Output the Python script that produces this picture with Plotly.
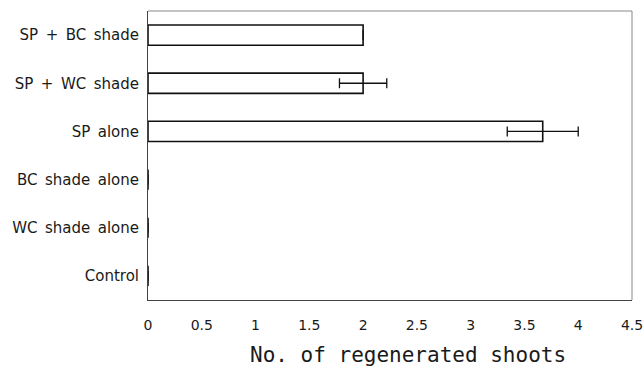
import plotly.graph_objects as go

# Treatments, listed top to bottom
treatments = ["SP + BC shade", "SP + WC shade", "SP alone",
              "BC shade alone", "WC shade alone", "Control"]
# Mean number of regenerated shoots and standard error
mean_shoots = [2.0, 2.0, 3.67, 0, 0, 0]
std_error = [0, 0.22, 0.33, 0, 0, 0]
x_ticks = [0, 0.5, 1, 1.5, 2, 2.5, 3, 3.5, 4, 4.5]

# widen the word gaps in the category labels
labels = [t.replace(" ", "\u2002") for t in treatments]

fig = go.Figure(go.Bar(
    y=labels,
    x=mean_shoots,
    orientation="h",
    width=0.42,
    marker=dict(color="white", line=dict(color="#111", width=1.6)),
    error_x=dict(type="data", array=std_error, visible=True,
                 color="#111", thickness=1.3, width=5),
))

sans = "DejaVu Sans"
mono = "DejaVu Sans Mono"
fig.update_layout(
    width=644, height=367,
    margin=dict(l=148, r=12, t=11, b=67),
    paper_bgcolor="white", plot_bgcolor="white",
    showlegend=False,
    font=dict(family=sans, color="#1a1a1a"),
    xaxis=dict(
        range=[0, 4.5], tickvals=x_ticks,
        ticktext=[f"{v:g}" for v in x_ticks],
        showgrid=False, zeroline=False, ticks="",
        showline=True, linecolor="#444", linewidth=1,
        tickfont=dict(family=sans, size=14, color="#1a1a1a"),
        ticklabelstandoff=12,
        automargin=False,
    ),
    yaxis=dict(
        autorange="reversed",
        showgrid=False, zeroline=False, ticks="",
        showline=True, linecolor="#444", linewidth=1,
        tickfont=dict(family=sans, size=15, color="#1a1a1a"),
        ticklabelstandoff=5,
        automargin=False,
    ),
    bargap=0.58,
    shapes=[
        # lighter top and right frame edges
        dict(type="line", xref="paper", yref="paper", x0=0, x1=1, y0=1, y1=1,
             line=dict(color="#888", width=1)),
        dict(type="line", xref="paper", yref="paper", x0=1, x1=1, y0=0, y1=1,
             line=dict(color="#888", width=1)),
    ],
    annotations=[
        dict(text="No. of regenerated shoots", xref="paper", yref="paper",
             x=0.537, y=-0.192, xanchor="center", yanchor="middle",
             showarrow=False,
             font=dict(family=mono, size=21, color="#1a1a1a")),
    ],
)

fig.write_html("out.html")
